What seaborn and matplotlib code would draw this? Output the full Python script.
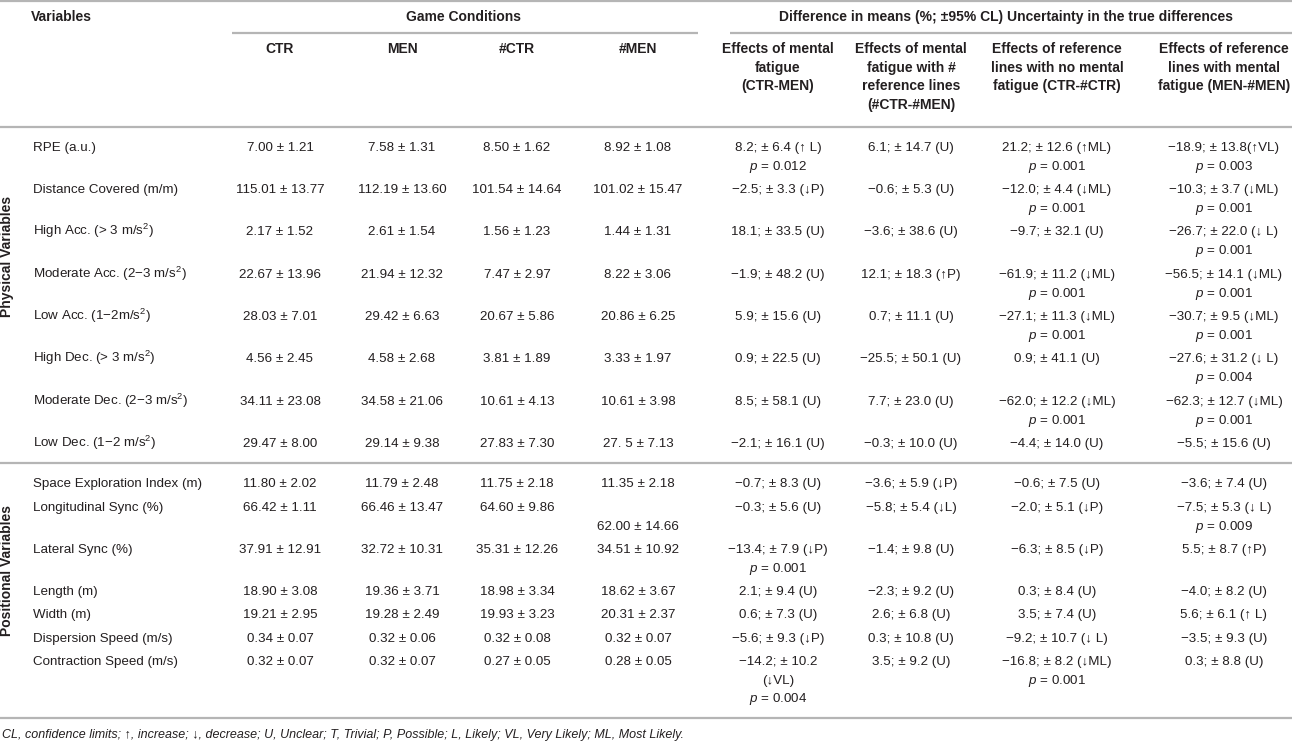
"""
Summary table: game conditions and differences in means (physical / positional variables).
Drawn as text on a blank matplotlib axis laid out in pixel coordinates.
"""
import matplotlib
matplotlib.use("Agg")
import matplotlib.pyplot as plt
import seaborn as sns

sns.set_theme(style="white")
plt.rcParams["font.family"] = ["Liberation Sans", "DejaVu Sans"]
plt.rcParams["mathtext.fontset"] = "custom"
plt.rcParams["mathtext.rm"] = "Liberation Sans"
plt.rcParams["mathtext.it"] = "Liberation Sans:italic"
plt.rcParams["mathtext.bf"] = "Liberation Sans:bold"

# -----------------------------------------------------------------
# Table content
# -----------------------------------------------------------------
conditions = ["CTR", "MEN", "#CTR", "#MEN"]
effect_headers = [
    "Effects of mental\nfatigue\n(CTR-MEN)",
    "Effects of mental\nfatigue with #\nreference lines\n(#CTR-#MEN)",
    "Effects of reference\nlines with no mental\nfatigue (CTR-#CTR)",
    "Effects of reference\nlines with mental\nfatigue (MEN-#MEN)",
]

physical_vars = [
    "RPE (a.u.)", "Distance Covered (m/m)", "High Acc. (> 3 m/s$^{2}$)",
    "Moderate Acc. (2\u22123 m/s$^{2}$)", "Low Acc. (1\u22122m/s$^{2}$)",
    "High Dec. (> 3 m/s$^{2}$)", "Moderate Dec. (2\u22123 m/s$^{2}$)",
    "Low Dec. (1\u22122 m/s$^{2}$)",
]
positional_vars = [
    "Space Exploration Index (m)", "Longitudinal Sync (%)", "Lateral Sync (%)",
    "Length (m)", "Width (m)", "Dispersion Speed (m/s)", "Contraction Speed (m/s)",
]

ctr = ["7.00 ± 1.21", "115.01 ± 13.77", "2.17 ± 1.52", "22.67 ± 13.96", "28.03 ± 7.01",
       "4.56 ± 2.45", "34.11 ± 23.08", "29.47 ± 8.00",
       "11.80 ± 2.02", "66.42 ± 1.11", "37.91 ± 12.91", "18.90 ± 3.08", "19.21 ± 2.95",
       "0.34 ± 0.07", "0.32 ± 0.07"]
men = ["7.58 ± 1.31", "112.19 ± 13.60", "2.61 ± 1.54", "21.94 ± 12.32", "29.42 ± 6.63",
       "4.58 ± 2.68", "34.58 ± 21.06", "29.14 ± 9.38",
       "11.79 ± 2.48", "66.46 ± 13.47", "32.72 ± 10.31", "19.36 ± 3.71", "19.28 ± 2.49",
       "0.32 ± 0.06", "0.32 ± 0.07"]
hctr = ["8.50 ± 1.62", "101.54 ± 14.64", "1.56 ± 1.23", "7.47 ± 2.97", "20.67 ± 5.86",
        "3.81 ± 1.89", "10.61 ± 4.13", "27.83 ± 7.30",
        "11.75 ± 2.18", "64.60 ± 9.86", "35.31 ± 12.26", "18.98 ± 3.34", "19.93 ± 3.23",
        "0.32 ± 0.08", "0.27 ± 0.05"]
hmen = ["8.92 ± 1.08", "101.02 ± 15.47", "1.44 ± 1.31", "8.22 ± 3.06", "20.86 ± 6.25",
        "3.33 ± 1.97", "10.61 ± 3.98", "27. 5 ± 7.13",
        "11.35 ± 2.18", "\n62.00 ± 14.66", "34.51 ± 10.92", "18.62 ± 3.67", "20.31 ± 2.37",
        "0.32 ± 0.07", "0.28 ± 0.05"]

eff_ctr_men = ["8.2; ± 6.4 (\u2191 L)", "\u22122.5; ± 3.3 (\u2193P)", "18.1; ± 33.5 (U)",
               "\u22121.9; ± 48.2 (U)", "5.9; ± 15.6 (U)", "0.9; ± 22.5 (U)",
               "8.5; ± 58.1 (U)", "\u22122.1; ± 16.1 (U)",
               "\u22120.7; ± 8.3 (U)", "\u22120.3; ± 5.6 (U)", "\u221213.4; ± 7.9 (\u2193P)",
               "2.1; ± 9.4 (U)", "0.6; ± 7.3 (U)", "\u22125.6; ± 9.3 (\u2193P)",
               "\u221214.2; ± 10.2\n(\u2193VL)"]
p_ctr_men = ["0.012", None, None, None, None, None, None, None,
             None, None, "0.001", None, None, None, "0.004"]

eff_hctr_hmen = ["6.1; ± 14.7 (U)", "\u22120.6; ± 5.3 (U)", "\u22123.6; ± 38.6 (U)",
                 "12.1; ± 18.3 (\u2191P)", "0.7; ± 11.1 (U)", "\u221225.5; ± 50.1 (U)",
                 "7.7; ± 23.0 (U)", "\u22120.3; ± 10.0 (U)",
                 "\u22123.6; ± 5.9 (\u2193P)", "\u22125.8; ± 5.4 (\u2193L)", "\u22121.4; ± 9.8 (U)",
                 "\u22122.3; ± 9.2 (U)", "2.6; ± 6.8 (U)", "0.3; ± 10.8 (U)", "3.5; ± 9.2 (U)"]
p_hctr_hmen = [None] * 15

eff_ctr_hctr = ["21.2; ± 12.6 (\u2191ML)", "\u221212.0; ± 4.4 (\u2193ML)", "\u22129.7; ± 32.1 (U)",
                "\u221261.9; ± 11.2 (\u2193ML)", "\u221227.1; ± 11.3 (\u2193ML)", "0.9; ± 41.1 (U)",
                "\u221262.0; ± 12.2 (\u2193ML)", "\u22124.4; ± 14.0 (U)",
                "\u22120.6; ± 7.5 (U)", "\u22122.0; ± 5.1 (\u2193P)", "\u22126.3; ± 8.5 (\u2193P)",
                "0.3; ± 8.4 (U)", "3.5; ± 7.4 (U)", "\u22129.2; ± 10.7 (\u2193 L)",
                "\u221216.8; ± 8.2 (\u2193ML)"]
p_ctr_hctr = ["0.001", "0.001", None, "0.001", "0.001", None, "0.001", None,
              None, None, None, None, None, None, "0.001"]

eff_men_hmen = ["\u221218.9; ± 13.8(\u2191VL)", "\u221210.3; ± 3.7 (\u2193ML)",
                "\u221226.7; ± 22.0 (\u2193 L)", "\u221256.5; ± 14.1 (\u2193ML)",
                "\u221230.7; ± 9.5 (\u2193ML)", "\u221227.6; ± 31.2 (\u2193 L)",
                "\u221262.3; ± 12.7 (\u2193ML)", "\u22125.5; ± 15.6 (U)",
                "\u22123.6; ± 7.4 (U)", "\u22127.5; ± 5.3 (\u2193 L)", "5.5; ± 8.7 (\u2191P)",
                "\u22124.0; ± 8.2 (U)", "5.6; ± 6.1 (\u2191 L)", "\u22123.5; ± 9.3 (U)",
                "0.3; ± 8.8 (U)"]
p_men_hmen = ["0.003", "0.001", "0.001", "0.001", "0.001", "0.004", "0.001", None,
              None, "0.009", None, None, None, None, None]

footnote = ("CL, confidence limits; \u2191, increase; \u2193, decrease; U, Unclear; T, Trivial; "
            "P, Possible; L, Likely; VL, Very Likely; ML, Most Likely.")

# -----------------------------------------------------------------
# Layout (pixels)
# -----------------------------------------------------------------
W, H = 1292, 741
TXT = "#231f20"
LINE = "#b5b5b5"
FS = 9.6      # body text
FS_HEAD = 10  # bold headers
LH = 18.7     # line height for wrapped cells

row_y = [147, 189, 231, 274, 316, 358, 401, 443,
         483, 507, 549, 591, 614, 638, 661]
label_x = 33
cond_x = [280, 402, 517, 638]
eff_x = [778, 911, 1057, 1224]

fig = plt.figure(figsize=(W / 100, H / 100), dpi=100)
ax = fig.add_axes([0, 0, 1, 1])
ax.set_xlim(0, W)
ax.set_ylim(H, 0)
ax.axis("off")


def cell(x, y, s, fs=FS, **kw):
    # baseline alignment keeps mathtext and plain strings on the same line
    for k, line in enumerate(s.split("\n")):
        if line:
            ax.text(x, y + k * LH + 4, line, ha="center", va="baseline",
                    fontsize=fs, color=TXT, **kw)


# rules
for y, x0, x1 in [(1, 0, W), (33, 232, 698), (33, 730, W), (127, 0, W),
                  (463, 0, W), (718, 0, W)]:
    ax.plot([x0, x1], [y, y], color=LINE, lw=1.6, solid_capstyle="butt")

# header
ax.text(31, 21, "Variables", ha="left", va="baseline", fontsize=FS_HEAD,
        fontweight="bold", color=TXT)
ax.text(463, 21, "Game Conditions", ha="center", va="baseline", fontsize=FS_HEAD,
        fontweight="bold", color=TXT)
ax.text(1006, 21, "Difference in means (%; ±95% CL) Uncertainty in the true differences",
        ha="center", va="baseline", fontsize=FS_HEAD, fontweight="bold", color=TXT)
for x, c in zip(cond_x, conditions):
    cell(x, 49, c, fs=FS_HEAD, fontweight="bold")
for x, h in zip(eff_x, effect_headers):
    cell(x, 49, h, fs=FS_HEAD, fontweight="bold")

# side group labels
ax.text(7, 256, "Physical Variables", rotation=90, ha="center", va="center",
        fontsize=FS_HEAD, fontweight="bold", color=TXT)
ax.text(7, 571, "Positional Variables", rotation=90, ha="center", va="center",
        fontsize=FS_HEAD, fontweight="bold", color=TXT)

# body
row_labels = physical_vars + positional_vars
for i, y in enumerate(row_y):
    ax.text(label_x, y + 4, row_labels[i], ha="left", va="baseline", fontsize=FS, color=TXT)
    for x, col in zip(cond_x, [ctr, men, hctr, hmen]):
        cell(x, y, col[i])
    for x, col, pcol in zip(eff_x,
                            [eff_ctr_men, eff_hctr_hmen, eff_ctr_hctr, eff_men_hmen],
                            [p_ctr_men, p_hctr_hmen, p_ctr_hctr, p_men_hmen]):
        s = col[i]
        if pcol[i] is not None:
            s = s + "\n$p$ = " + pcol[i]
        cell(x, y, s)

ax.text(2, 738, footnote, ha="left", va="baseline", fontsize=9.0, style="italic", color=TXT)

fig.savefig("out.png", dpi=100, facecolor="white")
